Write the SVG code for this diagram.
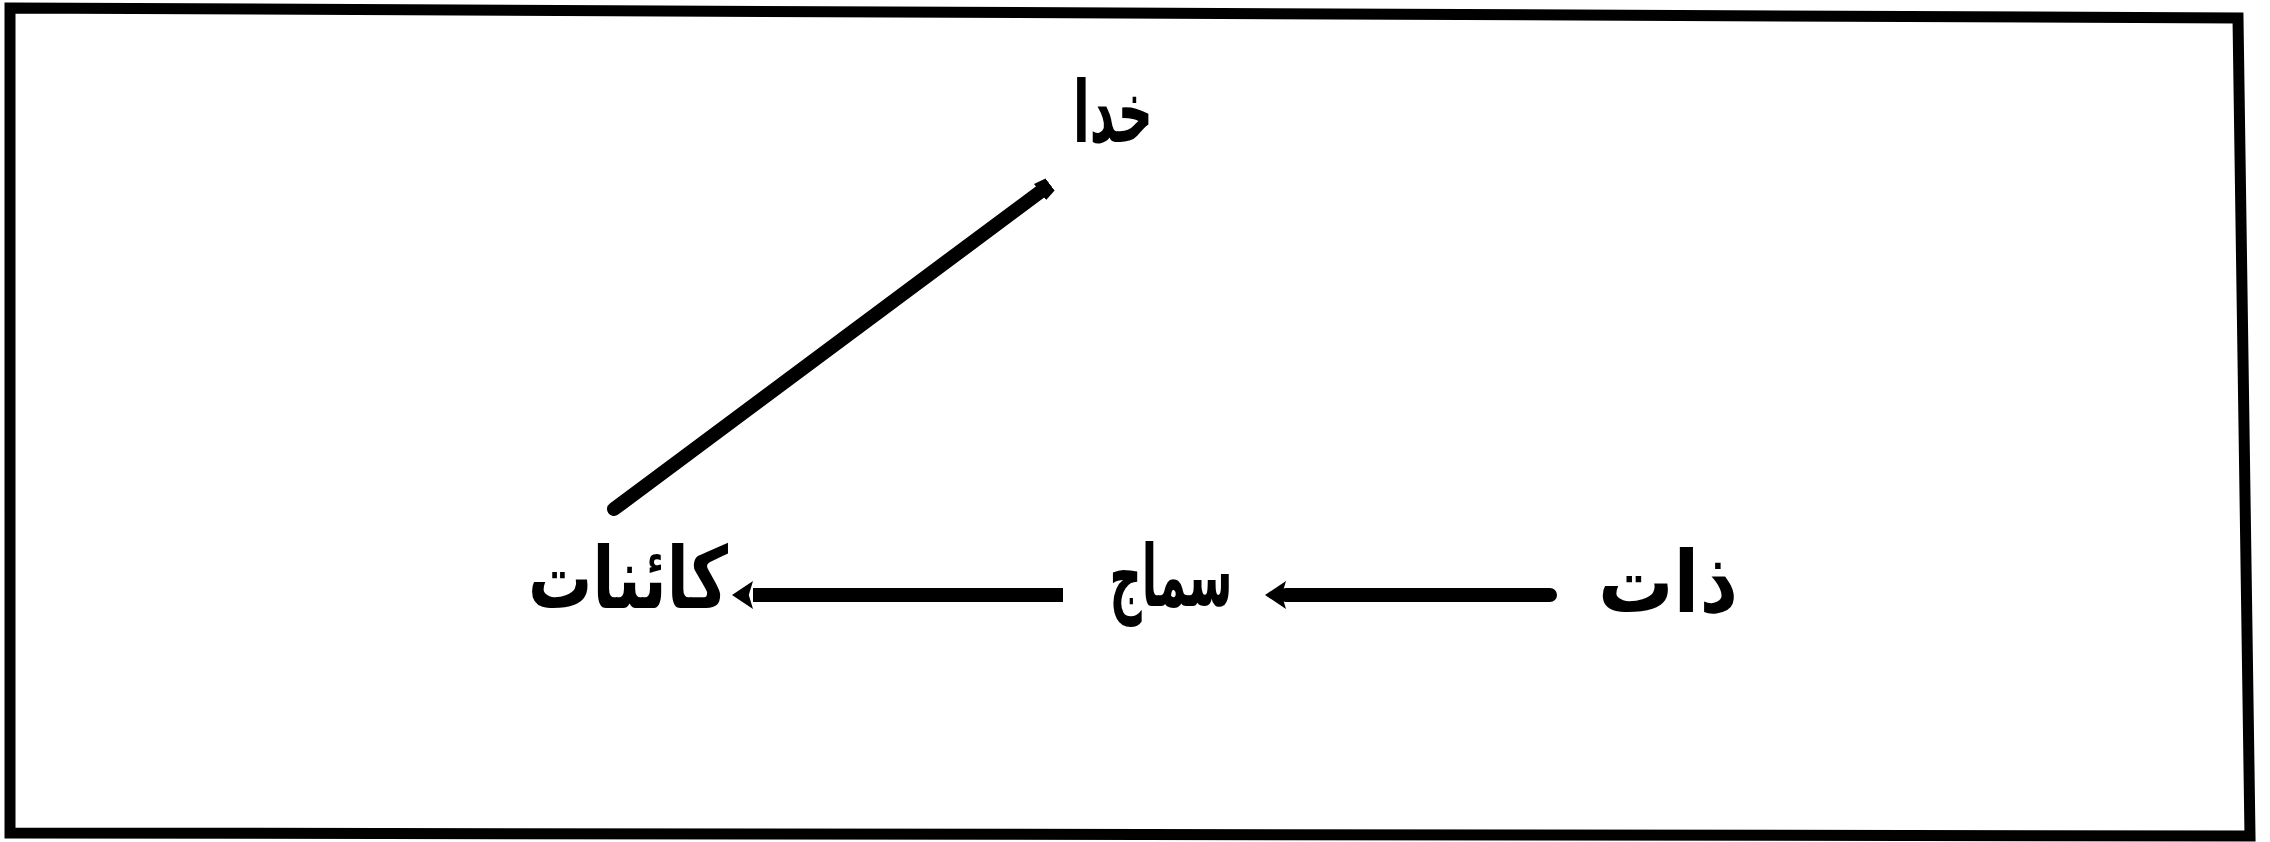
<svg xmlns="http://www.w3.org/2000/svg" width="2270" height="842" viewBox="0 0 2270 842">
<style>
.lbl{font-family:"DejaVu Sans",sans-serif;font-weight:bold;font-size:66px;fill:#000;text-anchor:middle}
.conn{stroke:#000;stroke-width:14;fill:none}
</style>
<defs>
<marker id="ah" viewBox="0 0 15 20" refX="0" refY="10" markerWidth="1.5" markerHeight="2" orient="auto" markerUnits="strokeWidth">
<path d="M0,0 L15,10 L0,20 L3,10 Z" fill="#000"/>
</marker>
<marker id="tip" viewBox="0 0 10 16" refX="0" refY="8" markerWidth="0.9" markerHeight="1.5" orient="auto" markerUnits="strokeWidth">
<path d="M0,0 L10,2 L10,14 L0,16 Z" fill="#000"/>
</marker>
</defs>
<rect width="2270" height="842" fill="#fff"/>
<polygon id="frame" points="10,8 2238,18 2250,836 10,833" fill="none" stroke="#000" stroke-width="11"/>
<g id="connectors">
<line class="conn" x1="614" y1="509" x2="1040" y2="192" stroke-width="13" stroke-linecap="round" marker-end="url(#tip)"/>
<line class="conn" x1="1063" y1="595" x2="753" y2="595" marker-end="url(#ah)"/>
<line class="conn" x1="1550" y1="595" x2="1286" y2="595" marker-end="url(#ah)" stroke-linecap="round"/>
</g>
<g id="node-khuda"><text class="lbl" transform="translate(1113,142) scale(1,1.3)" textLength="80" lengthAdjust="spacingAndGlyphs">خدا</text></g>
<g id="node-kainat"><text class="lbl" transform="translate(628,608) scale(1,1.3)" textLength="200" lengthAdjust="spacingAndGlyphs">کائنات</text></g>
<g id="node-samaj"><text class="lbl" transform="translate(1171,606) scale(1,1.3)" textLength="123" lengthAdjust="spacingAndGlyphs">سماج</text></g>
<g id="node-zaat"><text class="lbl" transform="translate(1668,612) scale(1,1.3)" textLength="140" lengthAdjust="spacingAndGlyphs">ذات</text></g>
</svg>
